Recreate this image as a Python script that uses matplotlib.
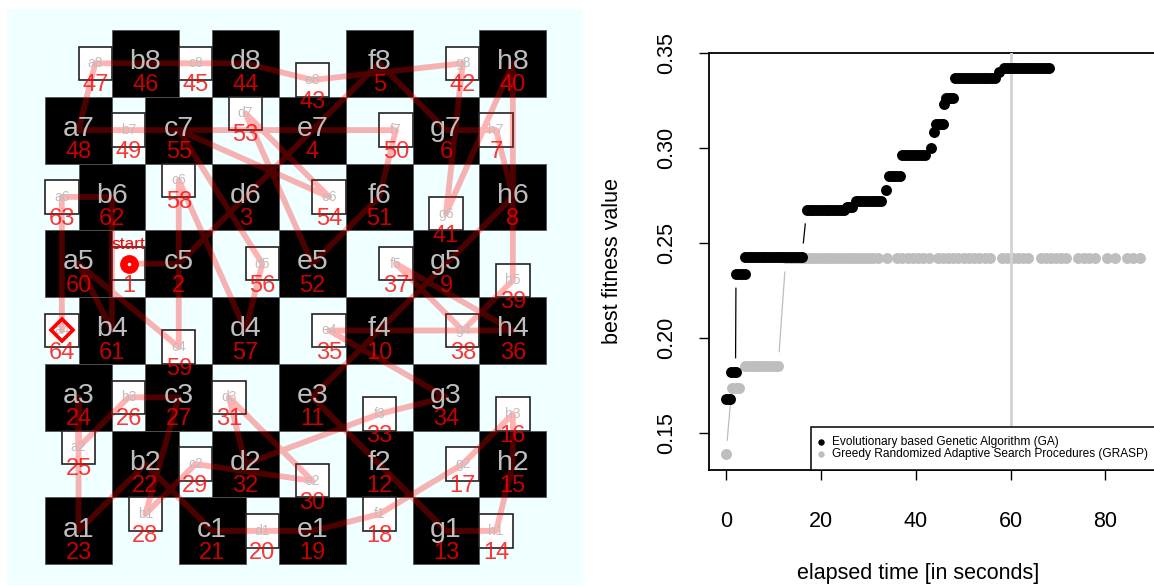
import matplotlib
matplotlib.use("Agg")
import matplotlib.pyplot as plt
from matplotlib.patches import Rectangle
from matplotlib.lines import Line2D
import numpy as np

plt.rcParams['font.family'] = ['Liberation Sans', 'DejaVu Sans']

# order in which the tour visits the squares (move 1 .. 64)
tour = ['b5', 'c5', 'd6', 'e7', 'f8', 'g7', 'h7', 'h6', 'g5', 'f4',
        'e3', 'f2', 'g1', 'h1', 'h2', 'h3', 'g2', 'f1', 'e1', 'd1',
        'c1', 'b2', 'a1', 'a3', 'a2', 'b3', 'c3', 'b1', 'c2', 'e2',
        'd3', 'd2', 'f3', 'g3', 'e4', 'h4', 'f5', 'g4', 'h5', 'h8',
        'g6', 'g8', 'e8', 'd8', 'c8', 'b8', 'a8', 'a7', 'b7', 'f7',
        'f6', 'e5', 'd7', 'e6', 'c7', 'd5', 'd4', 'c6', 'c4', 'a5',
        'b4', 'b6', 'a6', 'a4']

# jitter of every square on the picture (in squares)
shift = {
    'a8': (0.75, 0), 'b8': (0.5, 0), 'c8': (0.25, 0), 'd8': (0, 0),
    'e8': (0, -0.25), 'f8': (0, 0), 'g8': (0.25, 0), 'h8': (0, 0),
    'a7': (0.5, 0), 'b7': (0.25, 0), 'c7': (0, 0), 'd7': (0, 0.25),
    'e7': (0, 0), 'f7': (0.25, 0), 'g7': (0, 0), 'h7': (-0.25, 0),
    'a6': (0.25, 0), 'b6': (0, 0), 'c6': (0, 0.25), 'd6': (0, 0),
    'e6': (0.25, 0), 'f6': (0, 0), 'g6': (0, -0.25), 'h6': (0, 0),
    'a5': (0.5, 0), 'b5': (0.25, 0), 'c5': (0, 0), 'd5': (0.25, 0),
    'e5': (0, 0), 'f5': (0.25, 0), 'g5': (0, 0), 'h5': (0, -0.25),
    'a4': (0.25, 0), 'b4': (0, 0), 'c4': (0, -0.25), 'd4': (0, 0),
    'e4': (0.25, 0), 'f4': (0, 0), 'g4': (0.25, 0), 'h4': (0, 0),
    'a3': (0.5, 0), 'b3': (0.25, 0), 'c3': (0, 0), 'd3': (-0.25, 0),
    'e3': (0, 0), 'f3': (0, -0.25), 'g3': (0, 0), 'h3': (0, -0.25),
    'a2': (0.5, 0.25), 'b2': (0.5, 0), 'c2': (0.25, 0), 'd2': (0, 0),
    'e2': (0, -0.25), 'f2': (0, 0), 'g2': (0.25, 0), 'h2': (0, 0),
    'a1': (0.5, 0), 'b1': (0.5, 0.25), 'c1': (0.5, 0), 'd1': (0.25, 0),
    'e1': (0, 0), 'f1': (0, 0.25), 'g1': (0, 0), 'h1': (-0.25, 0),
}

# best fitness over time, GA (black) and GRASP (gray)
ga_levels = [0.168, 0.1824, 0.2337, 0.2429, 0.2675, 0.2693, 0.2724, 0.278,
             0.2856, 0.2965, 0.300, 0.3088, 0.3126, 0.3233, 0.3266, 0.3368,
             0.3403, 0.3424]
ga_times = [
    [0.0, 0.6, 0.9],
    [1.1, 1.6, 2.0],
    [2.1, 2.7, 3.3, 3.9],
    [4.1, 4.7, 5.3, 5.9, 6.5, 7.1, 7.7, 8.3, 8.9, 9.5, 10.1, 10.7, 11.3,
     11.9, 12.5, 13.1, 13.7, 14.3, 14.9, 15.5, 16.0],
    [17.0, 17.6, 18.2, 18.8, 19.4, 20.0, 20.6, 21.2, 21.8, 22.4, 23.0,
     23.6, 24.2, 24.8],
    [25.4, 26.0, 26.6],
    [27.3, 27.9, 28.5, 29.1, 29.7, 30.3, 30.9, 31.5, 32.1, 32.7],
    [33.8],
    [34.3, 34.9, 35.5, 36.1, 36.6],
    [37.1, 37.7, 38.3, 38.9, 39.5, 40.1, 40.7, 41.3, 41.9],
    [43.3],
    [43.8],
    [44.2, 44.8, 45.4, 45.8],
    [46.0],
    [46.4, 47.0, 47.5, 47.9],
    [48.3, 48.9, 49.5, 50.1, 50.7, 51.3, 51.9, 52.5, 53.1, 53.7, 54.3,
     54.9, 55.5, 56.1, 56.8],
    [57.6],
    [58.6, 59.2, 59.8, 60.4, 61.0, 61.6, 62.2, 62.8, 63.4, 64.0, 64.6,
     65.2, 65.8, 66.4, 67.0, 67.6, 68.0],
]
grasp_levels = [0.139, 0.174, 0.1856, 0.2422]
grasp_times = [
    [0.0],
    [1.2, 2.0, 2.8],
    [4.0, 4.7, 5.4, 6.1, 6.8, 7.5, 8.2, 8.9, 9.6, 10.3, 11.0],
    [12.6, 13.4, 14.2, 15.0, 15.8, 16.6, 17.4, 18.2, 19.0, 19.8, 20.6,
     21.4, 22.2, 23.0, 23.8, 24.6, 25.4, 26.2, 27.0, 27.8, 28.6, 29.4,
     30.2, 30.9, 32.1, 33.9, 36.1, 37.2, 38.3, 39.4, 40.5, 41.6, 42.7,
     44.6, 45.7, 46.8, 47.9, 49.0, 50.1, 51.2, 52.3, 53.4, 54.5, 55.6,
     58.2, 59.3, 60.4, 61.5, 62.6, 63.7, 66.3, 67.4, 68.5, 69.6, 70.7,
     71.7, 74.3, 75.4, 76.6, 77.7, 80.3, 81.9, 84.6, 85.9, 87.2],
]

W, H = 1154, 586
fig = plt.figure(figsize=(W / 100, H / 100), dpi=100)


def frame(x0, y0, x1, y1):
    # pixel box (top-left origin) -> figure fraction rect
    return [x0 / W, 1 - y1 / H, (x1 - x0) / W, (y1 - y0) / H]


# ---------------- left: the board ----------------
ax = fig.add_axes(frame(7.3, 9, 583, 585))
ax.set_facecolor('#F0FFFF')
ax.set_xlim(0.434, 9.05)
ax.set_ylim(0.19, 8.813)
ax.set_xticks([])
ax.set_yticks([])
for s in ax.spines.values():
    s.set_visible(False)

pos = {}
for sq, (dx, dy) in shift.items():
    col = 'abcdefgh'.index(sq[0]) + 1
    row = int(sq[1])
    pos[sq] = (col + dx, row + dy)

for sq, (x, y) in pos.items():
    col = 'abcdefgh'.index(sq[0]) + 1
    row = int(sq[1])
    if (col + row) % 2 == 0:
        ax.add_patch(Rectangle((x - 0.5, y - 0.5), 1, 1, fc='black',
                               ec='#555555', lw=0.6, zorder=1))
    else:
        ax.add_patch(Rectangle((x - 0.25, y - 0.25), 0.5, 0.5, fc='white',
                               ec='#222222', lw=1.2, zorder=2))

xs = [pos[s][0] for s in tour]
ys = [pos[s][1] for s in tour]
ax.plot(xs, ys, color='red', alpha=0.3, lw=4.2, solid_capstyle='round',
        solid_joinstyle='round', zorder=3)

for i, sq in enumerate(tour):
    x, y = pos[sq]
    col = 'abcdefgh'.index(sq[0]) + 1
    row = int(sq[1])
    if (col + row) % 2 == 0:
        ax.text(x, y + 0.02, sq, fontsize=20.5, color='#BEBEBE',
                ha='center', va='center', zorder=5)
    else:
        ax.text(x, y, sq, fontsize=10, color='#BEBEBE',
                ha='center', va='center', zorder=5)
    ax.text(x, y - 0.33, str(i + 1), fontsize=17, color='red', alpha=0.78,
            ha='center', va='center', zorder=6)

sx, sy = pos[tour[0]]
ax.plot(sx, sy, 'o', color='red', ms=12.5, zorder=7)
ax.plot(sx, sy, 'o', color='white', ms=1.5, zorder=8)
ax.text(sx, sy + 0.28, 'start', fontsize=12.5, color='red',
        ha='center', va='center', zorder=7)
ex, ey = pos[tour[-1]]
ax.plot(ex, ey, 'D', mfc='none', mec='red', mew=2.6, ms=11, zorder=7)

# ---------------- right: fitness over time ----------------
ax2 = fig.add_axes(frame(709, 52.7, 1170, 470))
ax2.set_xlim(-3.59, 93.6)
ax2.set_ylim(0.13068, 0.35032)
for s in ax2.spines.values():
    s.set_linewidth(1.3)

ga_x = [t for ts in ga_times for t in ts]
ga_y = [lv for lv, ts in zip(ga_levels, ga_times) for _ in ts]
gr_x = [t for ts in grasp_times for t in ts]
gr_y = [lv for lv, ts in zip(grasp_levels, grasp_times) for _ in ts]


def gapped_lines(a, px, py, color, gap=14):
    # R type = "b": segments between points, cut short around each point
    pts = a.transData.transform(np.column_stack([px, py]))
    inv = a.transData.inverted()
    for (x0, y0), (x1, y1) in zip(pts[:-1], pts[1:]):
        d = np.hypot(x1 - x0, y1 - y0)
        if d <= 2 * gap:
            continue
        ux, uy = (x1 - x0) / d, (y1 - y0) / d
        seg = inv.transform([[x0 + ux * gap, y0 + uy * gap],
                             [x1 - ux * gap, y1 - uy * gap]])
        a.plot(seg[:, 0], seg[:, 1], color=color, lw=0.9, zorder=2)


gapped_lines(ax2, gr_x, gr_y, '#BEBEBE')
gapped_lines(ax2, ga_x, ga_y, 'black')
ax2.scatter(gr_x, gr_y, s=62, color='#BEBEBE', lw=0, zorder=3)
ax2.axvline(60, color='#D3D3D3', lw=2, zorder=4)
ax2.scatter(ga_x, ga_y, s=62, color='black', lw=0, zorder=5)

ax2.set_xticks([0, 20, 40, 60, 80])
ax2.set_yticks([0.15, 0.20, 0.25, 0.30, 0.35])
ax2.set_yticklabels(['0.15', '0.20', '0.25', '0.30', '0.35'], rotation=90,
                    va='center')
ax2.tick_params(axis='both', direction='out', length=7.2, width=1,
                labelsize=15.5)
ax2.tick_params(axis='x', pad=22)
ax2.tick_params(axis='y', pad=16)

fig.text(918 / W, 1 - 573 / H, 'elapsed time [in seconds]', fontsize=15.5,
         ha='center', va='center')
fig.text(612 / W, 1 - 261 / H, 'best fitness value', fontsize=15.5,
         ha='center', va='center', rotation=90)

# legend box
fig.add_artist(Rectangle((811 / W, 1 - 470 / H), (1170 - 811) / W,
                         (470 - 426.7) / H, transform=fig.transFigure,
                         fc='white', ec='black', lw=1.1))
for yy, c, lab in [(442.3, 'black', 'Evolutionary based Genetic Algorithm (GA)'),
                   (454.3, '#BEBEBE',
                    'Greedy Randomized Adaptive Search Procedures (GRASP)')]:
    fig.add_artist(Line2D([820.7 / W], [1 - yy / H], transform=fig.transFigure,
                          marker='o', ms=3.6, color=c, lw=0))
    fig.text(831.7 / W, 1 - yy / H, lab, fontsize=8.6, ha='left',
             va='center')

fig.savefig('out.png', dpi=100)
